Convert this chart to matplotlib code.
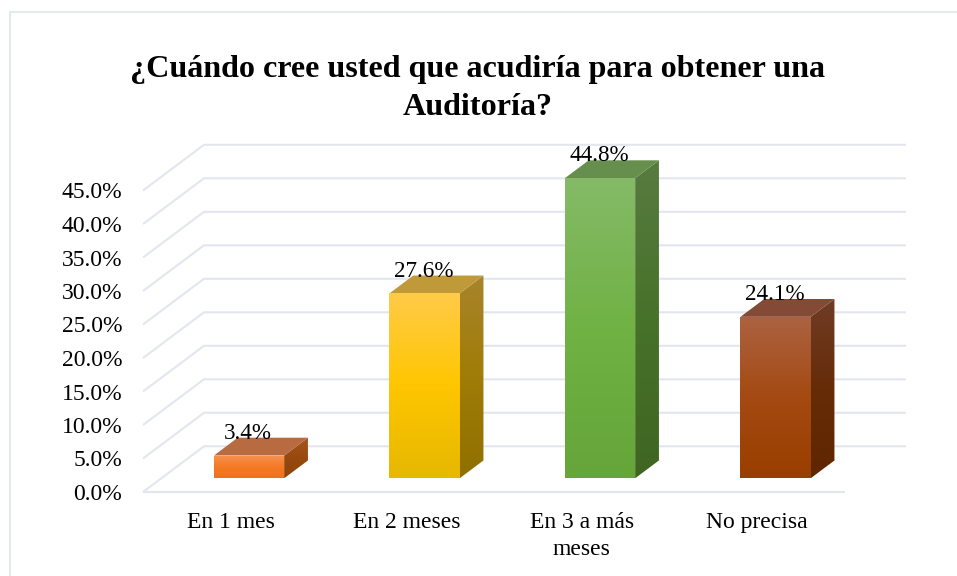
import numpy as np
import matplotlib
matplotlib.use("Agg")
import matplotlib.pyplot as plt
from matplotlib.colors import LinearSegmentedColormap
from matplotlib.lines import Line2D
from matplotlib.patches import Polygon

categories = ["En 1 mes", "En 2 meses", "En 3 a más\nmeses", "No precisa"]
values = [3.4, 27.6, 44.8, 24.1]
labels = ["3.4%", "27.6%", "44.8%", "24.1%"]
ticks = [0, 5, 10, 15, 20, 25, 30, 35, 40, 45]
title = "¿Cuándo cree usted que acudiría para obtener una\nAuditoría?"

# top colour, middle colour, bottom colour of each bar
front_colors = [["#F79250", "#F57A25", "#F0711C"],
                ["#FFCB48", "#FFC600", "#E6B800"],
                ["#85BA68", "#70B244", "#65A539"],
                ["#AC6242", "#A44A12", "#9A3E00"]]
side_colors = [["#A4561F", "#97490F", "#8F4408"],
               ["#A8842C", "#A07C08", "#8F7000"],
               ["#587B40", "#47722A", "#3F6522"],
               ["#703C26", "#662C08", "#5F2600"]]
top_colors = ["#B86A40", "#C09A38", "#668F4E", "#834B35"]

W, H = 957, 576
plt.rcParams["font.family"] = ["Liberation Serif", "DejaVu Serif"]
fig = plt.figure(figsize=(W / 100, H / 100), dpi=100)

# chart frame, only left and top edges are inside the picture
fig.add_artist(Line2D([10 / W, 10 / W, 1], [0, 1 - 12 / H, 1 - 12 / H], transform=fig.transFigure,
                      color="#E4E8EF", lw=1.5, solid_joinstyle="miter"))

# front plane of the chart box: 143-845 px wide, y=0 at 492 px, 6.7 px per percent
ax = fig.add_axes([143 / W, 1 - 492 / H, 702 / W, 301.5 / H])
ax.patch.set_alpha(0)
for s in ax.spines.values():
    s.set_visible(False)

DX = 61 / 175.5   # depth of the box in x units
DY = 45.7 / 6.7   # depth of the box in percent units


def project(x, y, z):
    return x + z * DX, y + z * DY


def gradient(colors, poly_pts, y0, y1, zorder):
    cmap = LinearSegmentedColormap.from_list("g", colors)
    xs = [p[0] for p in poly_pts]
    img = ax.imshow(np.linspace(0, 1, 200).reshape(-1, 1), cmap=cmap, aspect="auto",
                    origin="upper", extent=(min(xs), max(xs), y0, y1), zorder=zorder)
    clip = Polygon(poly_pts, closed=True, transform=ax.transData, fc="none", ec="none")
    ax.add_patch(clip)
    # the tallest bar goes past the top of the axes
    img.set_clip_box(fig.bbox)
    img.set_clip_path(clip)


# walls
grid_color = "#E3E6EE"
for t in ticks:
    x0, y0 = project(0, t, 0)
    x1, y1 = project(0, t, 1)
    x2, y2 = project(4, t, 1)
    ax.plot([x0, x1, x2], [y0, y1, y2], color=grid_color, lw=1.5, clip_on=False, zorder=1,
            solid_joinstyle="miter", solid_capstyle="butt")
ax.plot([0, 4], [0, 0], color=grid_color, lw=1.5, clip_on=False, zorder=1, solid_capstyle="butt")

# bars
bar_w = 0.4
z0, z1 = 0.3, 0.69
for i, v in enumerate(values):
    left = i + 0.5 - bar_w / 2
    right = i + 0.5 + bar_w / 2
    fl = project(left, 0, z0)
    fr = project(right, 0, z0)
    tl = project(left, v, z0)
    tr = project(right, v, z0)
    bl2 = project(left, v, z1)
    br2 = project(right, v, z1)
    fr2 = project(right, 0, z1)

    gradient(side_colors[i], [fr, fr2, br2, tr], fr[1], br2[1], 3)
    gradient(front_colors[i], [fl, fr, tr, tl], fl[1], tl[1], 4)
    ax.add_patch(Polygon([tl, tr, br2, bl2], closed=True, fc=top_colors[i], ec="none", zorder=3,
                         clip_on=False))
    ax.text((tl[0] + br2[0]) / 2 - 0.073, (tl[1] + bl2[1]) / 2 + 2.0, labels[i], ha="center",
            va="center", fontsize=16.7, color="black", zorder=5, clip_on=False)

ax.set_xlim(0, 4)
ax.set_ylim(0, 45)
ax.set_yticks(ticks)
ax.set_yticklabels([f"{t:.1f}%" for t in ticks], fontsize=17)
ax.set_xticks(np.arange(4) + 0.5)
ax.set_xticklabels(categories, fontsize=17, linespacing=1.35)
ax.tick_params(axis="y", length=0, pad=15)
ax.tick_params(axis="x", length=0, pad=14.5)

fig.text(478 / W, 1 - 88.5 / H, title, ha="center", va="center", fontsize=23.1, fontweight="bold",
         linespacing=1.43)

fig.savefig("out.png", dpi=100)
